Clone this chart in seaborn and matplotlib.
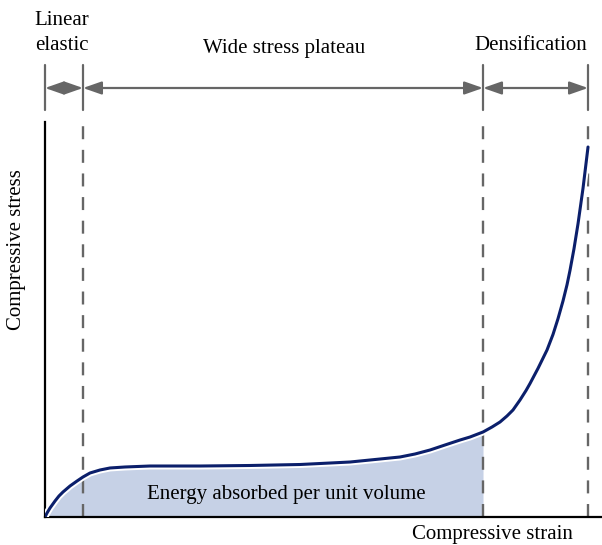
import matplotlib
matplotlib.use("Agg")
import matplotlib.pyplot as plt
import matplotlib.patheffects as pe
import seaborn as sns
import pandas as pd

# ---- data (normalised strain / stress) ----
strain = [0.0000, 0.0036, 0.0090, 0.0180, 0.0251, 0.0323, 0.0449, 0.0575, 0.0682,
          0.0808, 0.0987, 0.1167, 0.1436, 0.1885, 0.2783, 0.3680, 0.4578, 0.5476,
          0.6373, 0.6643, 0.6912, 0.7181, 0.7451, 0.7630, 0.7864, 0.8025, 0.8169,
          0.8294, 0.8402, 0.8528, 0.8636, 0.8707, 0.8851, 0.9013, 0.9120, 0.9210,
          0.9300, 0.9372, 0.9425, 0.9497, 0.9569, 0.9659, 0.9749]
stress = [0.0000, 0.0101, 0.0228, 0.0405, 0.0532, 0.0633, 0.0785, 0.0911, 0.1013,
          0.1114, 0.1190, 0.1241, 0.1266, 0.1291, 0.1291, 0.1304, 0.1329, 0.1392,
          0.1519, 0.1595, 0.1696, 0.1823, 0.1949, 0.2025, 0.2152, 0.2278, 0.2405,
          0.2557, 0.2709, 0.2962, 0.3202, 0.3378, 0.3762, 0.4228, 0.4620, 0.5020,
          0.5470, 0.5880, 0.6240, 0.6790, 0.7420, 0.8320, 0.9367]
region_bounds = [0.000, 0.0682, 0.7864, 0.9749]
region_labels = ["Linear\nelastic", "Wide stress plateau", "Densification"]
x_label = "Compressive strain"
y_label = "Compressive stress"
area_label = "Energy absorbed per unit volume"

df = pd.DataFrame({"strain": strain, "stress": stress})

sns.set_theme(style="white")
plt.rcParams["font.family"] = ["Liberation Serif", "DejaVu Serif"]
plt.rcParams["text.color"] = "black"

W, H = 602, 545
fig = plt.figure(figsize=(W / 100, H / 100), dpi=100)
ax = fig.add_axes([45 / W, (H - 517) / H, (W - 45) / W, (517 - 122) / H])
ax.set_xlim(0, 1)
ax.set_ylim(0, 1)

# energy area
sub = df[df["strain"] <= region_bounds[2] + 1e-9]
ax.fill_between(sub["strain"], 0, sub["stress"], color="#c6d1e6", lw=0, zorder=1)

# curve
sns.lineplot(data=df, x="strain", y="stress", ax=ax, color="#0b1f6b", lw=2.2,
             estimator=None, sort=False, zorder=3,
             path_effects=[pe.Stroke(linewidth=5, foreground="white"), pe.Normal()])

gray = "#666666"
# dashed guide lines inside the axes
for xb in region_bounds[1:]:
    ax.plot([xb, xb], [0, 1.005], color=gray, lw=1.7, ls=(0, (5.5, 4.5)), zorder=2,
            clip_on=False)

trans = ax.get_xaxis_transform()
ay = (517 - 88) / (517 - 122)
y0 = (517 - 110) / (517 - 122)
y1 = (517 - 65) / (517 - 122)
for xb in region_bounds:
    ax.plot([xb, xb], [y0, y1], color=gray, lw=1.6, transform=trans, clip_on=False)
for a, b in zip(region_bounds[:-1], region_bounds[1:]):
    ax.annotate("", xy=(b, ay), xytext=(a, ay), xycoords=trans, textcoords=trans,
                arrowprops=dict(arrowstyle="<|-|>,head_length=0.8,head_width=0.28",
                                color=gray, lw=1.6, shrinkA=0, shrinkB=0,
                                mutation_scale=14))

# spines
sns.despine(ax=ax, top=True, right=True)
for s in ["left", "bottom"]:
    ax.spines[s].set_color("black")
    ax.spines[s].set_linewidth(1.6)
ax.set_xticks([])
ax.set_yticks([])
ax.set_xlabel("")
ax.set_ylabel("")

fs = 15
fig.text(62 / W, 1 - 33 / H, region_labels[0], ha="center", va="center", fontsize=fs,
         linespacing=1.4)
fig.text(284 / W, 1 - 48 / H, region_labels[1], ha="center", va="center", fontsize=fs)
fig.text(531 / W, 1 - 45 / H, region_labels[2], ha="center", va="center", fontsize=fs)
fig.text(286 / W, 1 - 494 / H, area_label, ha="center", va="center", fontsize=fs)
fig.text(492 / W, 1 - 535 / H, x_label, ha="center", va="center", fontsize=fs)
fig.text(17 / W, 1 - 250 / H, y_label, ha="center", va="center", fontsize=fs,
         rotation=90)

fig.savefig("out.png", dpi=100)
